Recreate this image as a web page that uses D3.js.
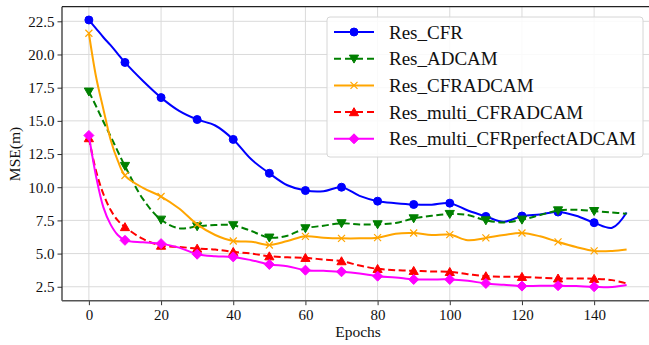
<!DOCTYPE html>
<html>
<head>
<meta charset="utf-8">
<script src="https://cdn.jsdelivr.net/npm/d3@7"></script>
<style>
  body { margin: 0; background: #fff; }
</style>
</head>
<body>
<div id="chart"></div>
<script>
var epochs = [0, 2, 4, 6, 8, 10, 15, 20, 25, 30, 35, 40, 45, 50, 55, 60, 65, 70, 75,
              80, 85, 90, 95, 100, 105, 110, 115, 120, 125, 130, 135, 140, 145, 149];

var resCFR = [22.6, 21.95, 21.3, 20.7, 20.05, 19.4, 18.0, 16.75, 15.75, 15.1, 14.65, 13.6, 12.1, 11.05, 10.15, 9.75, 9.7, 10.0, 9.35,
              8.95, 8.8, 8.7, 8.68, 8.8, 8.25, 7.8, 7.4, 7.83, 7.95, 8.13, 7.85, 7.33, 6.95, 8.1];
var resADCAM = [17.2, 16.1, 14.95, 13.85, 12.7, 11.6, 9.1, 7.55, 6.9, 7.05, 7.15, 7.13, 6.7, 6.2, 6.35, 6.9, 7.1, 7.28, 7.2,
                7.2, 7.3, 7.65, 7.85, 7.98, 7.9, 7.5, 7.35, 7.55, 7.9, 8.25, 8.3, 8.2, 8.1, 8.0];
var resCFRADCAM = [21.6, 18.3, 15.9, 13.6, 12.0, 10.88, 9.95, 9.3, 8.4, 7.2, 6.4, 5.95, 5.9, 5.65, 5.95, 6.3, 6.2, 6.15, 6.15,
                   6.2, 6.5, 6.55, 6.4, 6.43, 6.0, 6.18, 6.4, 6.55, 6.3, 5.88, 5.5, 5.2, 5.2, 5.3];
var resMultiCFRADCAM = [13.7, 11.2, 9.5, 8.3, 7.5, 7.0, 6.1, 5.6, 5.5, 5.38, 5.3, 5.13, 5.0, 4.8, 4.72, 4.68, 4.55, 4.43, 4.1,
                        3.85, 3.75, 3.7, 3.65, 3.62, 3.45, 3.3, 3.25, 3.25, 3.18, 3.13, 3.12, 3.1, 3.0, 2.75];
var resMultiPerfect = [13.9, 10.8, 8.5, 7.2, 6.4, 6.0, 5.85, 5.75, 5.45, 4.95, 4.8, 4.75, 4.5, 4.18, 4.05, 3.75, 3.7, 3.63, 3.5,
                       3.3, 3.2, 3.05, 3.05, 3.05, 2.95, 2.75, 2.65, 2.55, 2.58, 2.58, 2.55, 2.5, 2.48, 2.63];

var seriesNames = ["Res_CFR", "Res_ADCAM", "Res_CFRADCAM", "Res_multi_CFRADCAM", "Res_multi_CFRperfectADCAM"];
var seriesValues = [resCFR, resADCAM, resCFRADCAM, resMultiCFRADCAM, resMultiPerfect];
var colors = ["#0000ff", "#008000", "#ffa500", "#ff0000", "#ff00ff"];
var dashes = [null, "7,3.5", null, "7,3.5", null];
var markers = ["circle", "tridown", "x", "triup", "diamond"];

var xTicks = [0, 20, 40, 60, 80, 100, 120, 140];
var yTicks = [2.5, 5.0, 7.5, 10.0, 12.5, 15.0, 17.5, 20.0, 22.5];

var FONT = "\"Liberation Serif\"";
var W = 649, H = 345;
var svg = d3.select("#chart").append("svg")
    .attr("width", W)
    .attr("height", H);

var x = d3.scaleLinear().domain([-7.45, 156.45]).range([62, 653.5]);
var y = d3.scaleLinear().domain([1.45, 23.6]).range([300.7, 6.7]);

// grid
svg.append("g").selectAll("line").data(xTicks).enter().append("line")
    .attr("x1", d => x(d)).attr("x2", d => x(d))
    .attr("y1", y.range()[0]).attr("y2", y.range()[1])
    .attr("stroke", "#dadada").attr("stroke-width", 1);
svg.append("g").selectAll("line").data(yTicks).enter().append("line")
    .attr("x1", x.range()[0]).attr("x2", x.range()[1])
    .attr("y1", d => y(d)).attr("y2", d => y(d))
    .attr("stroke", "#dadada").attr("stroke-width", 1);

// axes
var xAxis = svg.append("g")
    .attr("transform", "translate(0," + y.range()[0] + ")")
    .call(d3.axisBottom(x).tickValues(xTicks).tickSize(4.5).tickPadding(4).tickFormat(d3.format("d")));
var yAxis = svg.append("g")
    .attr("transform", "translate(" + x.range()[0] + ",0)")
    .call(d3.axisLeft(y).tickValues(yTicks).tickSize(4.5).tickPadding(3).tickFormat(d3.format(".1f")));
[xAxis, yAxis].forEach(function (a) {
  a.select(".domain").remove();
  a.selectAll("text")
      .style("font-family", FONT)
      .style("font-size", "15px")
      .attr("fill", "#111");
  a.selectAll("line").attr("stroke", "#333");
});

// spines
svg.append("line").attr("x1", 62).attr("x2", 62).attr("y1", 6.7).attr("y2", 300.7)
    .attr("stroke", "#222").attr("stroke-width", 1.2);
svg.append("line").attr("x1", 62).attr("x2", 653.5).attr("y1", 6.7).attr("y2", 6.7)
    .attr("stroke", "#222").attr("stroke-width", 1.2);
svg.append("line").attr("x1", 62).attr("x2", 653.5).attr("y1", 300.7).attr("y2", 300.7)
    .attr("stroke", "#555").attr("stroke-width", 1.5);

// labels
svg.append("text").attr("x", 358).attr("y", 337).attr("text-anchor", "middle")
    .style("font-family", FONT).style("font-size", "15.5px").attr("fill", "#111").text("Epochs");
svg.append("text").attr("transform", "translate(20,154) rotate(-90)").attr("text-anchor", "middle")
    .style("font-family", FONT).style("font-size", "15.5px").attr("fill", "#111").text("MSE(m)");

function markerPath(type) {
  if (type === "circle") return d3.symbol().type(d3.symbolCircle).size(Math.PI * 4 * 4)();
  if (type === "tridown") return "M-4.6,-3.6L4.6,-3.6L0,4.4Z";
  if (type === "triup") return "M-4.6,3.6L4.6,3.6L0,-4.4Z";
  if (type === "diamond") return "M0,-5L5,0L0,5L-5,0Z";
  if (type === "x") return "M-3.5,-3.5L3.5,3.5M-3.5,3.5L3.5,-3.5";
}

var line = d3.line()
    .x(d => x(d[0]))
    .y(d => y(d[1]))
    .curve(d3.curveCatmullRom.alpha(0.5));

var plot = svg.append("g");
seriesValues.forEach(function (vals, i) {
  var pts = epochs.map(function (e, j) { return [e, vals[j]]; });
  plot.append("path")
      .datum(pts)
      .attr("d", line)
      .attr("fill", "none")
      .attr("stroke", colors[i])
      .attr("stroke-width", 2)
      .attr("stroke-dasharray", dashes[i]);
  plot.selectAll(".m" + i)
      .data(pts.filter(d => d[0] % 10 === 0))
      .enter().append("path")
      .attr("class", "m" + i)
      .attr("transform", d => "translate(" + x(d[0]) + "," + y(d[1]) + ")")
      .attr("d", markerPath(markers[i]))
      .attr("fill", markers[i] === "x" ? "none" : colors[i])
      .attr("stroke", colors[i])
      .attr("stroke-width", markers[i] === "x" ? 1.2 : 1);
});

// legend
var lg = svg.append("g");
lg.append("rect")
    .attr("x", 327).attr("y", 17).attr("width", 316).attr("height", 140)
    .attr("rx", 3).attr("fill", "#fff").attr("fill-opacity", 0.85)
    .attr("stroke", "#d6d6d6").attr("stroke-width", 1);
seriesNames.forEach(function (name, i) {
  var ly = 32 + i * 26.7;
  lg.append("line")
      .attr("x1", 334).attr("x2", 374).attr("y1", ly).attr("y2", ly)
      .attr("stroke", colors[i]).attr("stroke-width", 2)
      .attr("stroke-dasharray", dashes[i] ? "7,4" : null);
  lg.append("path")
      .attr("transform", "translate(354," + ly + ")")
      .attr("d", markerPath(markers[i]))
      .attr("fill", markers[i] === "x" ? "none" : colors[i])
      .attr("stroke", colors[i])
      .attr("stroke-width", markers[i] === "x" ? 1.2 : 1);
  lg.append("text")
      .attr("x", 389).attr("y", ly + 6.5)
      .style("font-family", FONT)
      .style("font-size", "19px")
      .attr("fill", "#111")
      .text(name);
});
</script>
</body>
</html>
